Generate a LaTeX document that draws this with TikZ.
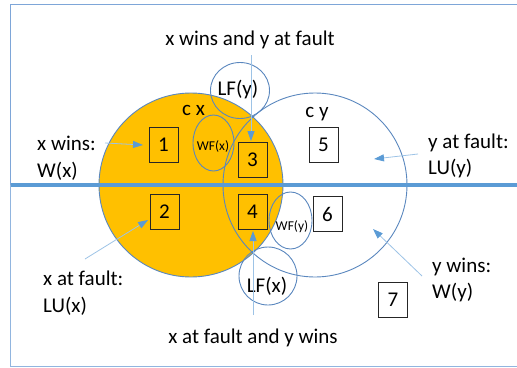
\documentclass[tikz,border=0pt]{standalone}
\usepackage{fontspec}
\setmainfont{Carlito}
\usetikzlibrary{arrows.meta}
\definecolor{orangefill}{HTML}{FFC000}
\definecolor{ringblue}{HTML}{5A87BE}
\definecolor{arrowline}{HTML}{9DC3E6}
\definecolor{arrowhead}{HTML}{5B9BD5}
\definecolor{frametop}{HTML}{7EA6D8}
\definecolor{framebottom}{HTML}{BDD7EE}
\definecolor{barblue}{HTML}{5B9BD5}
\begin{document}
\begin{tikzpicture}[x=1pt,y=-1pt,
  ring/.style={draw=ringblue, line width=0.9pt},
  numbox/.style={draw=black!85, line width=0.8pt, minimum width=29pt, minimum height=35pt, inner sep=0pt, font=\fontsize{21}{25}\selectfont},
  lbl/.style={font=\fontsize{21}{25}\selectfont, inner sep=0pt},
  smalllbl/.style={font=\fontsize{13.5}{16}\selectfont, inner sep=0pt},
  pointer/.style={draw=arrowline, line width=0.8pt, -{Triangle[length=10pt,width=7pt,color=arrowhead]}}
]
\useasboundingbox (0,0) rectangle (517,367);
% frame
\draw[frametop, line width=1pt] (517,4) -- (10.5,4) -- (10.5,185);
\draw[frametop!70!framebottom, line width=1pt] (10.5,185) -- (10.5,366) -- (517,366);
% main circles
\fill[orangefill] (191,185) circle (92);
\draw[ring] (191,185) circle (92);
\draw[ring] (315,185) circle (92);
% small circles
\draw[ring] (240,90.5) ellipse (29.5 and 28);
\draw[ring] (268,276) circle (29);
\draw[ring] (213.5,143) ellipse (20.5 and 28);
\draw[ring] (290.5,220.5) ellipse (21.5 and 28.5);
% thick bar
\draw[barblue, line width=4pt] (10.5,185) -- (517,185);
% boxes
\node[numbox] (b1) at (163.5,145) {1};
\node[numbox] (b2) at (164.5,211.5) {2};
\node[numbox] (b3) at (252.5,160) {3};
\node[numbox] (b4) at (252.5,211.5) {4};
\node[numbox, fill=white] (b5) at (323.5,145) {5};
\node[numbox, fill=white] (b6) at (327.5,214) {6};
\node[numbox, fill=white] (b7) at (393,300) {7};
% circle labels
\node[lbl, anchor=base] (cx) at (193.5,115) {c x};
\node[lbl, anchor=base] (cy) at (317,117) {c y};
\node[lbl, anchor=base] (lfy) at (238,95) {LF(y)};
\node[lbl, anchor=base] (lfx) at (267,292) {LF(x)};
\node[smalllbl, anchor=base] (wfx) at (213,150) {WF(x)};
\node[smalllbl, anchor=base] (wfy) at (292,230) {WF(y)};
% outer labels
\node[lbl, anchor=base] (top) at (250,45) {x wins and y at fault};
\node[lbl, anchor=base] (bottom) at (253,343) {x at fault and y wins};
\node[lbl, anchor=base west] (xw1) at (37,150) {x wins:};
\node[lbl, anchor=base west] (xw2) at (37,177) {W(x)};
\node[lbl, anchor=base west] (yf1) at (428,148) {y at fault:};
\node[lbl, anchor=base west] (yf2) at (428,174) {LU(y)};
\node[lbl, anchor=base west] (xf1) at (43,285) {x at fault:};
\node[lbl, anchor=base west] (xf2) at (43,312) {LU(x)};
\node[lbl, anchor=base west] (yw1) at (432,272) {y wins:};
\node[lbl, anchor=base west] (yw2) at (432,298) {W(y)};
% arrow end points
\coordinate (a1s) at (105,143); \coordinate (a1e) at (143,145);
\coordinate (a2s) at (418,154); \coordinate (a2e) at (374,159);
\coordinate (a3s) at (85,259);  \coordinate (a3e) at (148,220);
\coordinate (a4s) at (422,276); \coordinate (a4e) at (373,229);
\coordinate (a5s) at (251,55);  \coordinate (a5e) at (251,141);
\coordinate (a6s) at (253,315); \coordinate (a6e) at (253,231);
\draw[pointer] (a1s) -- (a1e);
\draw[pointer] (a2s) -- (a2e);
\draw[pointer] (a3s) -- (a3e);
\draw[pointer] (a4s) -- (a4e);
\draw[pointer] (a5s) -- (a5e);
\draw[pointer] (a6s) -- (a6e);
\end{tikzpicture}
\end{document}
